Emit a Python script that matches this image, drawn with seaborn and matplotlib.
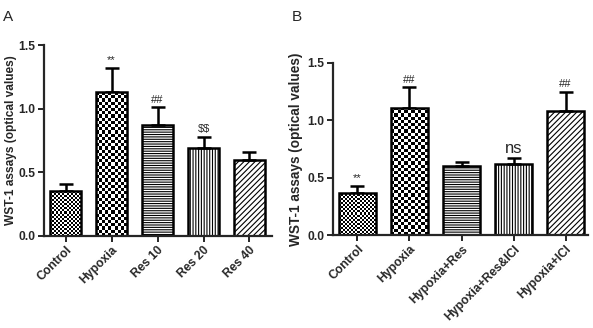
import numpy as np
import pandas as pd
import seaborn as sns
import matplotlib
matplotlib.use('Agg')
import matplotlib.pyplot as plt

# panel A
groups_a = ['Control', 'Hypoxia', 'Res 10', 'Res 20', 'Res 40']
means_a = [0.35, 1.13, 0.87, 0.69, 0.60]
errs_a = [0.06, 0.19, 0.14, 0.09, 0.06]
marks_a = ['', '**', '##', '$$', '']

# panel B
groups_b = ['Control', 'Hypoxia', 'Hypoxia+Res', 'Hypoxia+Res&ICI', 'Hypoxia+ICI']
means_b = [0.37, 1.11, 0.60, 0.62, 1.08]
errs_b = [0.06, 0.18, 0.04, 0.05, 0.17]
marks_b = ['**', '##', '', 'ns', '##']

# fill style per bar position (same order in both panels)
fills = ['check_small', 'check_big', '-------', '||||||', '//////']

sns.set_theme(style='ticks')
plt.rcParams['font.family'] = ['Liberation Sans', 'DejaVu Sans']
plt.rcParams['hatch.linewidth'] = 0.8


def checker(ax, patch, sq_px):
    x, w, h = patch.get_x(), patch.get_width(), patch.get_height()
    bb = patch.get_window_extent()
    nx = max(int(round(bb.width / sq_px)), 1)
    ny = max(int(round(bb.height / sq_px)), 1)
    arr = (np.add.outer(np.arange(ny), np.arange(nx)) % 2).astype(float)
    im = ax.imshow(arr, extent=(x, x + w, 0, h), cmap='gray', vmin=0, vmax=1,
                   interpolation='nearest', aspect='auto', origin='lower', zorder=1.5)
    im.set_clip_path(patch)


def panel(ax, groups, means, errs, marks, width, xlim, mark_sizes, tick_fs, label_fs, labelpad):
    df = pd.DataFrame({'group': groups, 'value': means})
    sns.barplot(data=df, x='group', y='value', ax=ax, color='white', width=width,
                edgecolor='black', linewidth=1.8, zorder=2)
    ax.set_xlim(*xlim)
    ax.set_ylim(0, 1.5)
    fig.canvas.draw()
    for i, p in enumerate(ax.patches):
        p.set_facecolor('none')
        f = fills[i]
        if f == 'check_small':
            checker(ax, p, 2.0)
        elif f == 'check_big':
            checker(ax, p, 3.2)
        else:
            p.set_hatch(f)
    ax.errorbar(np.arange(len(groups)), means, yerr=[np.zeros(len(errs)), errs],
                fmt='none', ecolor='black', elinewidth=1.8, capsize=5, capthick=1.8, zorder=1)
    for i, m in enumerate(marks):
        if m:
            ax.text(i, means[i] + errs[i] + 0.02, m, ha='center', va='bottom',
                    fontsize=mark_sizes.get(m, 8), parse_math=False)
    ax.set_xlim(*xlim)
    ax.set_ylim(0, 1.5)
    ax.set_yticks([0.0, 0.5, 1.0, 1.5])
    ax.set_yticklabels(['0.0', '0.5', '1.0', '1.5'], fontsize=tick_fs, fontweight='bold')
    ax.set_xticks(range(len(groups)))
    ax.set_xticklabels(groups, rotation=45, ha='right', rotation_mode='anchor',
                       fontsize=tick_fs, fontweight='bold')
    ax.set_xlabel('')
    ax.set_ylabel('WST-1 assays (optical values)', fontsize=label_fs, fontweight='bold',
                  labelpad=labelpad)
    for s in ['left', 'bottom']:
        ax.spines[s].set_linewidth(1.6)
    sns.despine(ax=ax)
    ax.tick_params(width=1.4, length=4, direction='out', pad=2)


fig = plt.figure(figsize=(5.93, 3.28), dpi=100)
ax_a = fig.add_axes([0.0742, 0.2805, 0.3845, 0.5823])
ax_b = fig.add_axes([0.5615, 0.2835, 0.4301, 0.5245])

panel(ax_a, groups_a, means_a, errs_a, marks_a, 0.67, (-0.47, 4.49), {},
      8.7, 8.6, 1.5)
panel(ax_b, groups_b, means_b, errs_b, marks_b, 0.70, (-0.47, 4.43), {'ns': 12},
      8.7, 9.8, 3)

fig.text(0.005, 0.97, 'A', fontsize=11, va='top')
fig.text(0.492, 0.97, 'B', fontsize=11, va='top')

fig.savefig('out.png', dpi=100)
